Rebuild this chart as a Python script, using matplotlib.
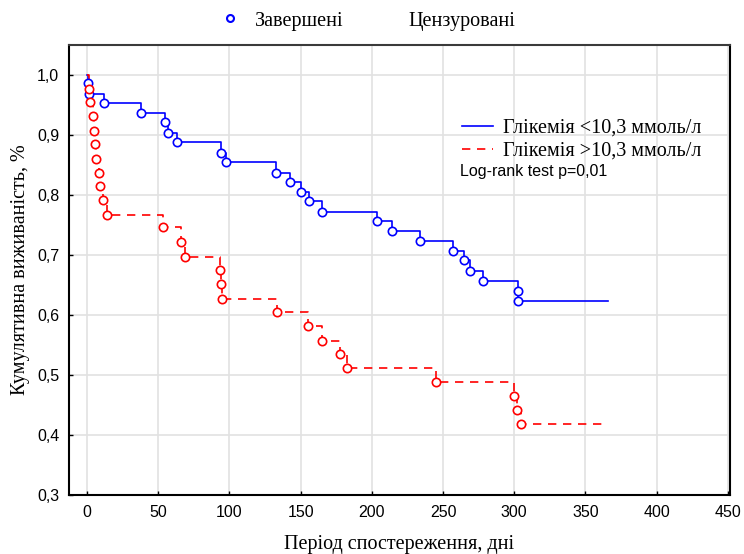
import numpy as np
import matplotlib
matplotlib.use("Agg")
import matplotlib.pyplot as plt
from matplotlib.lines import Line2D
from matplotlib.ticker import FuncFormatter

# Глікемія <10,3 ммоль/л: час події (дні) та кумулятивна виживаність
t_low = [0.7, 1.4, 12, 38, 55, 57, 63, 94, 97.5, 133, 142.5, 150, 156, 165,
         203.6, 214, 234, 257, 265, 269, 278, 302.6, 302.6]
s_low = [0.987, 0.968, 0.953, 0.937, 0.922, 0.903, 0.888, 0.870, 0.855, 0.837,
         0.822, 0.805, 0.790, 0.772, 0.757, 0.740, 0.723, 0.707, 0.692, 0.673,
         0.657, 0.640, 0.623]
end_low = 365.8

# Глікемія >10,3 ммоль/л
t_high = [1.5, 2, 4, 5, 5.5, 6.5, 8.5, 9, 11, 14, 53.4, 66, 69, 93.4, 94, 95,
          133.5, 155, 165, 177.6, 182.5, 245, 300, 302, 304.7]
s_high = [0.977, 0.955, 0.932, 0.907, 0.885, 0.860, 0.837, 0.815, 0.792, 0.767,
          0.747, 0.722, 0.697, 0.675, 0.652, 0.627, 0.605, 0.582, 0.557, 0.535,
          0.512, 0.488, 0.465, 0.442, 0.418]
end_high = 363

x_ticks = [0, 50, 100, 150, 200, 250, 300, 350, 400, 450]
y_ticks = [0.3, 0.4, 0.5, 0.6, 0.7, 0.8, 0.9, 1.0]

serif = "Liberation Serif"
sans = "Liberation Sans"


def km_steps(t, s, t_end):
    # ступінчаста крива: від (0, 1) до останньої події і далі до кінця спостереження
    tt = np.concatenate([[0], t, [t_end]])
    ss = np.concatenate([[1.0], s, [s[-1]]])
    return tt, ss


fig = plt.figure(figsize=(7.44, 5.54), dpi=100, facecolor="white")
ax = fig.add_axes([69 / 744, 59 / 554, 661 / 744, 450 / 554])

tl, sl = km_steps(t_low, s_low, end_low)
th, sh = km_steps(t_high, s_high, end_high)

ax.step(tl, sl, where="post", color="blue", lw=1.2,
        label="Глікемія <10,3 ммоль/л", zorder=3)
ax.step(th, sh, where="post", color="red", lw=1.2, linestyle=(0, (5, 4)),
        label="Глікемія >10,3 ммоль/л", zorder=3)
ax.plot(t_low, s_low, ls="none", marker="o", ms=6, mfc="white", mec="blue",
        mew=1.2, zorder=4)
ax.plot(t_high, s_high, ls="none", marker="o", ms=6, mfc="white", mec="red",
        mew=1.2, zorder=4)

ax.set_xlim(-12.6, 451.5)
ax.set_ylim(0.3, 1.05)
ax.set_xticks(x_ticks)
ax.set_yticks(y_ticks)
ax.yaxis.set_major_formatter(FuncFormatter(lambda v, p: f"{v:.1f}".replace(".", ",")))
ax.tick_params(direction="in", length=3, width=1, labelsize=11.5, pad=7)
for lab in ax.get_xticklabels() + ax.get_yticklabels():
    lab.set_fontfamily(sans)
ax.grid(True, color="#e2e2e2", lw=1.2, zorder=0)
ax.set_axisbelow(True)
for sp in ax.spines.values():
    sp.set_color("black")
    sp.set_linewidth(1.5)
ax.spines["top"].set_color("#3a3a3a")

ax.set_xlabel("Період спостереження, дні", fontfamily=serif, fontsize=14.5,
              labelpad=11)
ax.set_ylabel("Кумулятивна виживаність, %", fontfamily=serif, fontsize=14.5,
              labelpad=5)

leg = ax.legend(loc="upper left", bbox_to_anchor=(0.583, 0.854), frameon=False,
                prop={"family": serif, "size": 14.5}, handlelength=1.5,
                handletextpad=0.5, labelspacing=0.2, borderaxespad=0)
ax.text(0.591, 0.718, "Log-rank test p=0,01", transform=ax.transAxes,
        fontfamily=sans, fontsize=11.5, va="center")

# легенда над графіком: завершені та цензуровані спостереження
top_handles = [
    Line2D([], [], ls="none", marker="o", ms=5, mfc="white", mec="blue", mew=1.5),
    Line2D([], [], ls="none"),
]
fig.legend(top_handles, ["Завершені", "Цензуровані"], loc="center",
           bbox_to_anchor=(365 / 744, 1 - 21 / 554), ncol=2, frameon=False,
           prop={"family": serif, "size": 14.5}, columnspacing=1.2,
           handlelength=1.5, handletextpad=0.5)

fig.savefig("out.png", dpi=100, facecolor="white")
